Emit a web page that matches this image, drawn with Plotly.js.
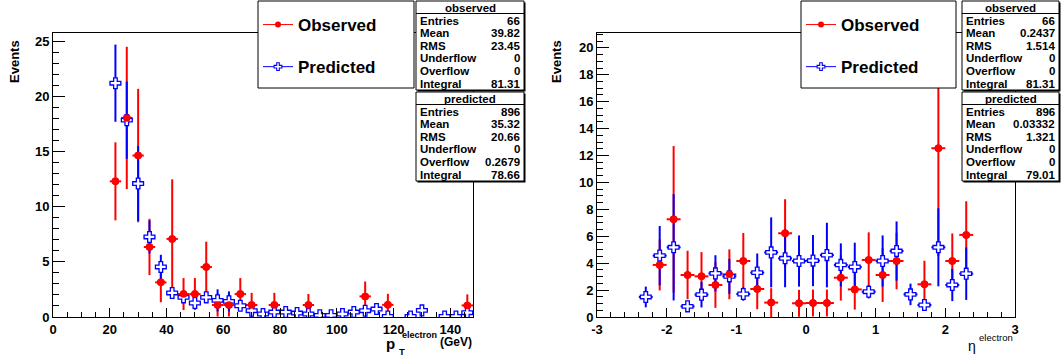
<!DOCTYPE html>
<html>
<head>
<meta charset="utf-8">
<script src="https://cdn.plot.ly/plotly-3.0.1.min.js"></script>
<style>
  html, body { margin: 0; padding: 0; background: #ffffff; }
  #chart { width: 1061px; height: 360px; }
</style>
</head>
<body>
<div id="chart"></div>
<script>
// ---- electron pT: bin centres (GeV), bin half-width 2 GeV ----
const ptObsX   = [22, 26, 30, 34, 38, 42, 46, 50, 54, 58, 62, 66, 70, 78, 90, 110, 118, 146];
const ptObsY   = [12.3, 18.05, 14.64, 6.35, 3.14, 7.08, 2.08, 2.08, 4.53, 1.09, 1.09, 2.08, 1.09, 1.09, 1.09, 1.87, 1.1, 1.05];
const ptObsErr = [3.54, 6.45, 6.05, 2.55, 1.8, 5.4, 1.45, 1.45, 2.3, 1.05, 1.05, 1.45, 1.1, 1.1, 1.0, 1.35, 1.0, 1.0];

const ptPredX   = [22, 26, 30, 34, 38, 42, 46, 50, 54, 58, 62, 66, 70, 74, 78, 82, 86, 90, 94, 98, 102, 106, 110, 114, 118, 126, 130, 138, 142, 146];
const ptPredY   = [21.2, 17.85, 12.1, 7.26, 4.54, 2.18, 1.78, 1.27, 1.78, 1.51, 1.42, 1.02, 0.57, 0.27, 0.45, 0.45, 0.36, 0.27, 0.15, 0.15, 0.27, 0.45, 0.57, 0.72, 0.05, 0.05, 0.6, 0.05, 0.05, 0.39];
const ptPredErr = [3.5, 3.5, 3.4, 1.5, 1.1, 0.5, 0.45, 0.35, 0.4, 1.0, 0.9, 0.4, 0.3, 0.1, 0.2, 0.15, 0.15, 0.1, 0.05, 0.05, 0.1, 0.15, 0.2, 0.25, 0.05, 0.05, 0.2, 0.05, 0.05, 0.15];
const ptHalfBin = 2;

// ---- electron eta: bin centres, bin half-width 0.1 ----
const etaObsX   = [-2.1, -1.9, -1.7, -1.5, -1.3, -1.1, -0.9, -0.7, -0.5, -0.3, -0.1, 0.1, 0.3, 0.5, 0.7, 0.9, 1.1, 1.3, 1.7, 1.9, 2.1, 2.3];
const etaObsY   = [3.87, 7.26, 3.12, 3.02, 2.38, 3.17, 4.16, 2.08, 1.07, 6.22, 1.02, 1.04, 1.04, 2.92, 2.05, 4.24, 3.12, 4.16, 2.43, 12.54, 4.16, 6.1];
const etaObsErr = [1.9, 5.44, 1.8, 1.8, 1.7, 1.85, 2.08, 1.5, 1.07, 2.53, 1.0, 1.0, 1.0, 1.7, 1.5, 2.05, 2.0, 2.1, 1.75, 8.0, 2.05, 2.5];

const etaPredX   = [-2.3, -2.1, -1.9, -1.7, -1.5, -1.3, -1.1, -0.9, -0.7, -0.5, -0.3, -0.1, 0.1, 0.3, 0.5, 0.7, 0.9, 1.1, 1.3, 1.5, 1.7, 1.9, 2.1, 2.3];
const etaPredY   = [1.49, 4.56, 5.18, 0.79, 1.66, 3.24, 3.02, 1.71, 3.3, 4.8, 4.36, 4.16, 4.19, 4.6, 3.87, 3.72, 1.88, 4.16, 4.9, 1.68, 0.89, 5.18, 2.38, 3.22];
const etaPredErr = [0.77, 2.2, 3.95, 0.25, 0.95, 1.35, 1.3, 0.5, 1.42, 2.6, 2.15, 1.9, 1.9, 2.4, 1.6, 1.8, 0.5, 1.9, 2.2, 0.8, 0.25, 2.9, 1.2, 1.95];
const etaHalfBin = 0.1;

// ---- axis ticks ----
const ptTickVals     = [0, 20, 40, 60, 80, 100, 120, 140];
const ptTickLabels   = ['0', '20', '40', '60', '80', '100', '120', '140'];
const ptYTickVals    = [0, 5, 10, 15, 20, 25];
const ptYTickLabels  = ['0', '5', '10', '15', '20', '25'];
const etaTickVals    = [-3, -2, -1, 0, 1, 2, 3];
const etaTickLabels  = ['-3', '-2', '-1', '0', '1', '2', '3'];
const etaYTickVals   = [0, 2, 4, 6, 8, 10, 12, 14, 16, 18, 20];
const etaYTickLabels = ['0', '2', '4', '6', '8', '10', '12', '14', '16', '18', '20'];

// ---- legend and statistics box texts ----
const seriesNames  = ['Observed', 'Predicted'];
const statTitles   = ['observed', 'predicted'];
const statLabels   = ['Entries', 'Mean', 'RMS', 'Underflow', 'Overflow', 'Integral'];
const ptObsStats   = ['66', '39.82', '23.45', '0', '0', '81.31'];
const ptPredStats  = ['896', '35.32', '20.66', '0', '0.2679', '78.66'];
const etaObsStats  = ['66', '0.2437', '1.514', '0', '0', '81.31'];
const etaPredStats = ['896', '0.03332', '1.321', '0', '0', '79.01'];

// ---------------------------------------------------------------
const W = 1061, H = 360;
const px = x => x / W;          // pixel -> paper x
const py = y => 1 - y / H;      // pixel -> paper y
const FONT = 'Liberation Sans, Arial, Helvetica, sans-serif';
const RED = '#ff0000', BLUE = '#0000ff';
const bold = s => '<b>' + s + '</b>';

function errBars(arr, color) {
  return { type: 'data', array: arr, visible: true, width: 0, thickness: 2, color: color };
}
function xBars(half, color) {
  return { type: 'constant', value: half, visible: true, width: 0, thickness: 2, color: color };
}

const crossMarker = (size, lw) => ({ symbol: 'cross', size: size, color: '#ffffff', line: { color: BLUE, width: lw } });

function panelTraces(obsX, obsY, obsErr, predX, predY, predErr, half, xa, ya, legendId) {
  return [
    // observed: error bars (bottom layer)
    { x: obsX, y: obsY, type: 'scatter', mode: 'markers', xaxis: xa, yaxis: ya,
      marker: { symbol: 'circle', size: 7.5, color: RED },
      error_y: errBars(obsErr, RED), error_x: xBars(half, RED),
      showlegend: false, hoverinfo: 'skip' },
    // predicted: error bars and open crosses
    { x: predX, y: predY, type: 'scatter', mode: 'markers', xaxis: xa, yaxis: ya,
      marker: crossMarker(9, 1.3),
      error_y: errBars(predErr, BLUE), error_x: xBars(half, BLUE),
      showlegend: false, hoverinfo: 'skip' },
    // observed markers on top
    { x: obsX, y: obsY, type: 'scatter', mode: 'markers', xaxis: xa, yaxis: ya,
      marker: { symbol: 'circle', size: 7.5, color: RED },
      showlegend: false, hoverinfo: 'skip' },
    // legend entries
    { x: [null], y: [null], type: 'scatter', mode: 'lines+markers', xaxis: xa, yaxis: ya,
      name: seriesNames[0], legend: legendId, legendgroup: legendId + 'o',
      line: { color: RED, width: 1 }, marker: { symbol: 'circle', size: 6, color: RED } },
    { x: [null], y: [null], type: 'scatter', mode: 'lines+markers', xaxis: xa, yaxis: ya,
      name: seriesNames[1], legend: legendId, legendgroup: legendId + 'p',
      line: { color: BLUE, width: 1 }, marker: crossMarker(6.5, 1.1) }
  ];
}

const data = [].concat(
  panelTraces(ptObsX, ptObsY, ptObsErr, ptPredX, ptPredY, ptPredErr, ptHalfBin, 'x', 'y', 'legend'),
  panelTraces(etaObsX, etaObsY, etaObsErr, etaPredX, etaPredY, etaPredErr, etaHalfBin, 'x2', 'y2', 'legend2')
);

const tickFont = { family: FONT, size: 13, color: '#000000' };
const yDomain = [py(317), py(33)];

function axis(domain, range, vals, labels, majorLen, minorDtick, minorLen, anchor) {
  return {
    domain: domain, range: range, anchor: anchor,
    tickmode: 'array', tickvals: vals, ticktext: labels.map(bold),
    showline: true, linecolor: '#000000', linewidth: 1, mirror: true,
    ticks: 'inside', ticklen: majorLen, tickwidth: 1, tickcolor: '#000000',
    minor: { tickmode: 'linear', dtick: minorDtick, tick0: 0, ticks: 'inside', ticklen: minorLen,
             tickwidth: 1, tickcolor: '#000000', showgrid: false },
    showgrid: false, zeroline: false, tickfont: tickFont, fixedrange: true
  };
}

const shapes = [];
const annotations = [];

function rect(x0, y0, x1, y1) {
  shapes.push({ type: 'rect', xref: 'paper', yref: 'paper', layer: 'above',
    x0: px(x0), x1: px(x1), y0: py(y1), y1: py(y0),
    fillcolor: '#ffffff', line: { color: '#000000', width: 1 } });
}
function shadowRect(x0, y0, x1, y1) {
  shapes.push({ type: 'rect', xref: 'paper', yref: 'paper', layer: 'above',
    x0: px(x0 + 1.5), x1: px(x1 + 1.5), y0: py(y1 + 1.5), y1: py(y0 + 1.5),
    fillcolor: '#000000', line: { width: 0 } });
  rect(x0, y0, x1, y1);
}
function hline(x0, x1, y) {
  shapes.push({ type: 'line', xref: 'paper', yref: 'paper', layer: 'above',
    x0: px(x0), x1: px(x1), y0: py(y), y1: py(y), line: { color: '#000000', width: 1 } });
}
function text(str, x, y, xanchor, size, weight, extra) {
  annotations.push(Object.assign({ text: str, xref: 'paper', yref: 'paper', x: px(x), y: py(y),
    xanchor: xanchor, yanchor: 'middle', showarrow: false, borderpad: 0,
    font: { family: FONT, size: size, color: '#000000', weight: weight } }, extra || {}));
}

// statistics box: title row plus one row per quantity
function statBox(x0, x1, top, title, values) {
  const bottom = top + 89;
  shadowRect(x0, top, x1, bottom);
  hline(x0, x1, top + 12.5);
  text(title, (x0 + x1) / 2, top + 6.5, 'center', 11.5, 'bold');
  statLabels.forEach((lab, i) => {
    const yy = top + 19.5 + i * 12.6;
    text(lab, x0 + 3, yy, 'left', 11.5, 'bold');
    text(values[i], x1 - 3, yy, 'right', 11.5, 'bold');
  });
}

// legend frames (entries are drawn by the plotly legends on top)
rect(258, 1, 414, 88);
rect(801, 1, 956, 88);

statBox(416, 524, 1, statTitles[0], ptObsStats);
statBox(416, 524, 92, statTitles[1], ptPredStats);
statBox(962, 1059, 1, statTitles[0], etaObsStats);
statBox(962, 1059, 92, statTitles[1], etaPredStats);

// axis titles
text('Events', 14, 62, 'center', 13, 'bold', { textangle: -90 });
text('Events', 556, 62, 'center', 13, 'bold', { textangle: -90 });
text('p', 396, 343, 'right', 15, 'bold');
text('electron', 401, 335, 'left', 9, 'bold');
text('T', 398, 351, 'left', 9.5, 'bold');
text('(GeV)', 473, 342, 'right', 12, 'bold');
text('\u03b7', 977, 346, 'right', 14, 'normal');
text('electron', 978, 337, 'left', 9.5, 'normal');

const legendStyle = (x) => ({
  x: px(x), y: py(7), xanchor: 'left', yanchor: 'top',
  bgcolor: 'rgba(0,0,0,0)', borderwidth: 0, itemwidth: 30,
  tracegroupgap: 17, traceorder: 'grouped',
  font: { family: FONT, size: 17, color: '#000000', weight: 'bold' }
});

const layout = {
  width: W, height: H, autosize: false,
  margin: { l: 0, r: 0, t: 0, b: 0, pad: 0 },
  paper_bgcolor: '#ffffff', plot_bgcolor: '#ffffff',
  xaxis: axis([px(53), px(473)], [0, 148], ptTickVals, ptTickLabels, 9, 5, 5, 'y'),
  yaxis: axis(yDomain, [0, 25.75], ptYTickVals, ptYTickLabels, 12, 1, 6, 'x'),
  xaxis2: axis([px(597), px(1015)], [-3, 3], etaTickVals, etaTickLabels, 9, 0.2, 5, 'y2'),
  yaxis2: axis(yDomain, [0, 21.1], etaYTickVals, etaYTickLabels, 12, 0.5, 6, 'x2'),
  legend: legendStyle(258),
  legend2: legendStyle(801),
  shapes: shapes,
  annotations: annotations,
  hovermode: false
};

Plotly.newPlot('chart', data, layout, { displayModeBar: false, staticPlot: true });
</script>
</body>
</html>
